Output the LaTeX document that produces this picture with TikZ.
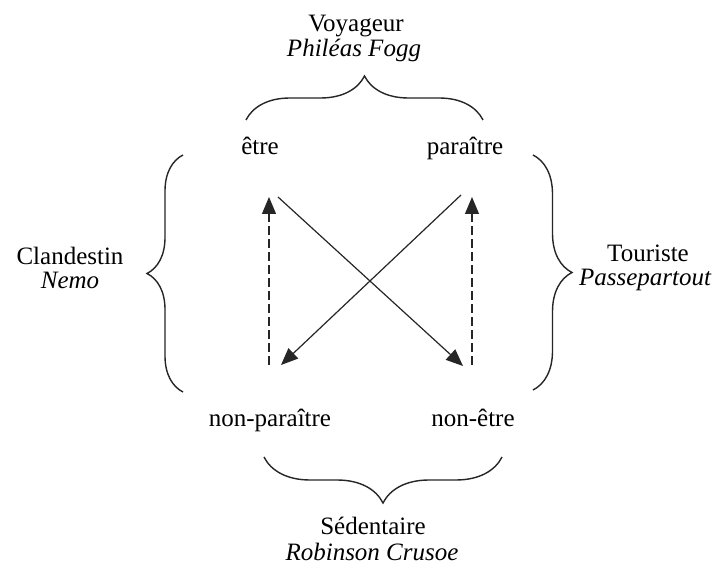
\documentclass[tikz,border=0pt]{standalone}
\usepackage{fontspec}
\setmainfont{Liberation Serif}
\usetikzlibrary{arrows.meta,decorations.pathreplacing}
\begin{document}
\begin{tikzpicture}[x=1pt,y=1pt,
  lbl/.style={font=\fontsize{25}{30}\selectfont, inner sep=0pt, anchor=base},
  ital/.style={font=\fontsize{25}{30}\selectfont\itshape, inner sep=0pt, anchor=base},
  bracedeco/.style={decorate, decoration={brace, amplitude=#1}, line width=1.4pt, color=black!85},
  arr/.style={-{Triangle[length=17pt,width=14pt]}, line width=1.2pt, color=black!85},
  dasharr/.style={arr, dash pattern=on 9pt off 4pt}]
\useasboundingbox (0,0) rectangle (712,565);
\fill[white] (0,0) rectangle (712,565);

% labels
\node[lbl]  (voy)  at (356,533) {Voyageur};
\node[ital] (fogg) at (354,508) {Philéas Fogg};
\node[lbl]  (etre) at (260,410) {être};
\node[lbl]  (par)  at (465,410) {paraître};
\node[lbl]  (npar) at (270,138) {non-paraître};
\node[lbl]  (netre) at (473,138) {non-être};
\node[lbl]  (sed)  at (373,31) {Sédentaire};
\node[ital] (rob)  at (372,5) {Robinson Crusoe};
\node[lbl]  (cla)  at (70,300) {Clandestin};
\node[ital] (nemo) at (70,276) {Nemo};
\node[lbl]  (tou)  at (648,303) {Touriste};
\node[ital] (pas)  at (645,279) {Passepartout};

% braces
\coordinate (tb1) at (246,445); \coordinate (tb2) at (483,445);
\coordinate (bb1) at (502,108); \coordinate (bb2) at (264,108);
\coordinate (lb1) at (183,173); \coordinate (lb2) at (183,410);
\coordinate (rb1) at (533,410); \coordinate (rb2) at (533,175);
\draw[bracedeco=44pt] (tb1) -- (tb2);
\draw[bracedeco=46pt] (bb1) -- (bb2);
\draw[bracedeco=36pt] (lb1) -- (lb2);
\draw[bracedeco=39pt] (rb1) -- (rb2);

% arrow ends
\coordinate (ldA) at (269,200); \coordinate (ldB) at (269,368);
\coordinate (rdA) at (472,200); \coordinate (rdB) at (472,368);
\coordinate (s1A) at (278,368); \coordinate (s1B) at (463,199);
\coordinate (s2A) at (461,370); \coordinate (s2B) at (281,200);

\draw[dasharr] (ldA) -- (ldB);
\draw[dasharr] (rdA) -- (rdB);
\draw[arr] (s1A) -- (s1B);
\draw[arr] (s2A) -- (s2B);
\end{tikzpicture}
\end{document}
